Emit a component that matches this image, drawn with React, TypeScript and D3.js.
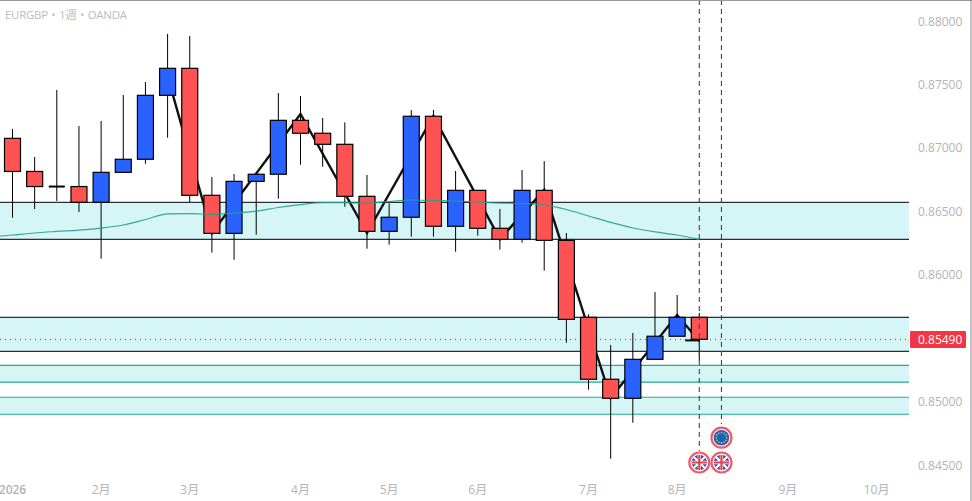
import * as d3 from "d3";

// weekly candles, index 0 = first week shown
const opens = [0.87075, 0.86814, 0.86695, 0.86695, 0.86571, 0.86807, 0.8691, 0.87414, 0.87627, 0.86626, 0.86326, 0.86736, 0.86792, 0.87217, 0.87115, 0.87028, 0.86618, 0.86342, 0.86453, 0.87249, 0.86382, 0.86665, 0.86366, 0.86279, 0.86665, 0.86271, 0.85664, 0.85176, 0.85026, 0.85333, 0.85515, 0.85664];
const closes = [0.86814, 0.86695, 0.86695, 0.86571, 0.86807, 0.8691, 0.87414, 0.87627, 0.86626, 0.86326, 0.86736, 0.86792, 0.87217, 0.87115, 0.87028, 0.86618, 0.86342, 0.86453, 0.87249, 0.86382, 0.86665, 0.86366, 0.86279, 0.86665, 0.86271, 0.85648, 0.85176, 0.85026, 0.85333, 0.85515, 0.85664, 0.85491];
const highs = [0.87149, 0.86928, 0.87456, 0.87172, 0.87212, 0.87417, 0.87519, 0.87898, 0.87882, 0.8677, 0.86794, 0.86794, 0.87432, 0.87409, 0.87235, 0.87201, 0.86786, 0.86563, 0.87298, 0.87298, 0.86818, 0.86668, 0.86518, 0.86825, 0.86896, 0.86329, 0.85688, 0.85446, 0.85541, 0.85864, 0.8584, 0.85698];
const lows = [0.86449, 0.86518, 0.86581, 0.86494, 0.86126, 0.86807, 0.86875, 0.8708, 0.86573, 0.86174, 0.86118, 0.86315, 0.86599, 0.86867, 0.86851, 0.86536, 0.86205, 0.86237, 0.863, 0.863, 0.86181, 0.86308, 0.86197, 0.86252, 0.86032, 0.85464, 0.85094, 0.8455, 0.84833, 0.85333, 0.85515, 0.85322];

// moving average starts one week before the first candle
const maValues = [0.86297, 0.86313, 0.86329, 0.86341, 0.86352, 0.86368, 0.86392, 0.86435, 0.86479, 0.86481, 0.86476, 0.86486, 0.86502, 0.8653, 0.86553, 0.86569, 0.86569, 0.86565, 0.86577, 0.86589, 0.86585, 0.86581, 0.86573, 0.86565, 0.86561, 0.8655, 0.86514, 0.86463, 0.86412, 0.86368, 0.86337, 0.86313, 0.86278];

const zigzagIndex = [7, 9, 13, 16, 19, 22, 24, 27, 30, 31];
const zigzagPrice = [0.87566, 0.86329, 0.87267, 0.86329, 0.87251, 0.86281, 0.86668, 0.85028, 0.85682, 0.85477];

const zoneTops = [0.86571, 0.85664, 0.85286, 0.85034];
const zoneBottoms = [0.86279, 0.85396, 0.85154, 0.849];
const zoneEdges = ["#2b2f36", "#2b2f36", "#22ab94", "#22ab94"];

const priceTicks = [0.88, 0.875, 0.87, 0.865, 0.86, 0.85, 0.845];
const monthIndex = [0, 4, 8, 13, 17, 21, 26, 30, 35, 39];
const monthLabels = ["2026", "2月", "3月", "4月", "5月", "6月", "7月", "8月", "9月", "10月"];
const lastPrice = 0.8549;

const eventIndex = [32, 31, 32];
const eventKind = ["eu", "uk", "uk"];
const eventRow = [437.7, 462.5, 462.5];

const W = 972;
const H = 501;
const plotRight = 909;
const font = "'Open Sans', 'Noto Sans CJK JP', sans-serif";

const x = d3.scaleLinear().domain([0, 31]).range([12.5, 699.3]);
const y = d3.scaleLinear().domain([0.88, 0.845]).range([21, 465]);

const bodyWidth = 16;
const zigzag = d3
  .line<number>()
  .x((d) => x(d))
  .y((_, i) => y(zigzagPrice[i]));
const maLine = d3
  .line<number>()
  .x((_, i) => x(i - 1))
  .y((d) => y(d))
  .curve(d3.curveMonotoneX);

function Flag({ cx, cy, kind, id }: { cx: number; cy: number; kind: string; id: string }) {
  const stars = d3.range(12).map((i) => (i * Math.PI) / 6);
  return (
    <g transform={`translate(${cx},${cy})`}>
      <circle r={10} fill="#fff" stroke="#f4566a" strokeWidth={2.2} />
      <clipPath id={id}>
        <circle r={7.8} />
      </clipPath>
      {kind === "eu" ? (
        <g>
          <circle r={7.8} fill="#1f62b5" />
          {stars.map((a) => (
            <circle key={a} cx={5.2 * Math.cos(a)} cy={5.2 * Math.sin(a)} r={0.8} fill="#f0d23c" />
          ))}
        </g>
      ) : (
        <g clipPath={`url(#${id})`}>
          <circle r={7.8} fill="#2c50a8" />
          <path d="M-8,-8L8,8M8,-8L-8,8" stroke="#fff" strokeWidth={2.2} />
          <path d="M0,-8V8M-8,0H8" stroke="#fff" strokeWidth={3.4} />
          <path d="M0,-8V8M-8,0H8" stroke="#e0404f" strokeWidth={2.2} />
        </g>
      )}
    </g>
  );
}

export default function App() {
  return (
    <svg
      width={W}
      height={H}
      viewBox={`0 0 ${W} ${H}`}
      style={{ position: "fixed", left: 0, top: 0, background: "#fff", fontFamily: font }}
    >
      {/* zones */}
      {zoneTops.map((t, i) => (
        <g key={t}>
          <rect x={0} width={plotRight} y={y(t)} height={y(zoneBottoms[i]) - y(t)} fill="#d6f5f7" />
          <line x1={0} x2={plotRight} y1={y(t)} y2={y(t)} stroke={zoneEdges[i]} strokeWidth={1.2} />
          <line x1={0} x2={plotRight} y1={y(zoneBottoms[i])} y2={y(zoneBottoms[i])} stroke={zoneEdges[i]} strokeWidth={1.2} />
        </g>
      ))}

      {/* current price line */}
      <line x1={0} x2={plotRight} y1={y(lastPrice)} y2={y(lastPrice)} stroke="#b0334a" strokeWidth={1} strokeDasharray="1 4" />

      {/* zigzag */}
      <path d={zigzag(zigzagIndex) ?? ""} fill="none" stroke="#111" strokeWidth={2.4} />
      <line x1={x(30) + 8} x2={x(31)} y1={y(lastPrice) + 1} y2={y(lastPrice) + 1} stroke="#111" strokeWidth={2} />

      {/* candles */}
      {opens.map((o, i) => {
        const c = closes[i];
        const top = y(Math.max(o, c));
        const bottom = y(Math.min(o, c));
        const doji = bottom - top < 1;
        return (
          <g key={i}>
            <line x1={x(i)} x2={x(i)} y1={y(highs[i])} y2={y(lows[i])} stroke="#000" strokeWidth={1} />
            {doji ? (
              <line x1={x(i) - 8} x2={x(i) + 8} y1={top} y2={top} stroke="#000" strokeWidth={2} />
            ) : (
              <rect
                x={x(i) - bodyWidth / 2}
                y={top}
                width={bodyWidth}
                height={bottom - top}
                fill={c >= o ? "#2962ff" : "#ff5252"}
                stroke="#000"
                strokeWidth={1.2}
              />
            )}
          </g>
        );
      })}

      {/* event lines */}
      <line x1={x(31)} x2={x(31)} y1={0} y2={451} stroke="#444" strokeWidth={1.1} strokeDasharray="5 4" />
      <line x1={x(32)} x2={x(32)} y1={0} y2={424} stroke="#444" strokeWidth={1.1} strokeDasharray="5 4" />

      {/* moving average */}
      <path d={maLine(maValues) ?? ""} fill="none" stroke="#22a08c" strokeWidth={1.2} opacity={0.9} />

      {/* event badges */}
      {eventIndex.map((d, i) => (
        <Flag key={i} id={`flag${i}`} cx={x(d)} cy={eventRow[i]} kind={eventKind[i]} />
      ))}

      {/* title */}
      <text x={5} y={19} fontSize={11.5} fill="#bcbcbc" textLength={122} lengthAdjust="spacing">
        EURGBP・1週・OANDA
      </text>

      {/* axes labels */}
      {priceTicks.map((p) => (
        <text key={p} x={918} y={y(p) + 4.5} fontSize={12} fill="#b4b4b4">
          {p.toFixed(5)}
        </text>
      ))}
      <rect x={910} y={y(lastPrice) - 8.5} width={56} height={17} fill="#f23645" rx={1} />
      <text x={918} y={y(lastPrice) + 4.5} fontSize={12} fill="#fff">
        {lastPrice.toFixed(5)}
      </text>
      {monthIndex.map((d, i) => (
        <text key={d} x={x(d)} y={494} fontSize={12} textAnchor="middle" fill="#b4b4b4" fontWeight={i === 0 ? 600 : 400}>
          {monthLabels[i]}
        </text>
      ))}

      {/* frame */}
      <line x1={0} x2={W} y1={0.5} y2={0.5} stroke="#999" />
      <line x1={971} x2={971} y1={0} y2={H} stroke="#888" />
    </svg>
  );
}
